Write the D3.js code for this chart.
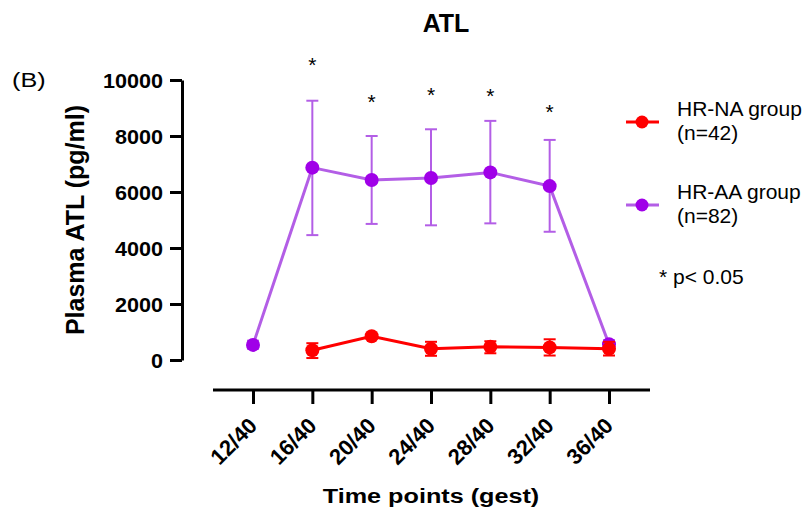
<!DOCTYPE html>
<html>
<head>
<meta charset="utf-8">
<script src="https://cdn.jsdelivr.net/npm/d3@7"></script>
<style>
  body { margin: 0; background: #fff; }
  text { font-family: "Liberation Sans", Arial, sans-serif; }
</style>
</head>
<body>
<div id="chart"></div>
<script>
var timePoints = ["12/40", "16/40", "20/40", "24/40", "28/40", "32/40", "36/40"];
var yTicks = [0, 2000, 4000, 6000, 8000, 10000];

// HR-NA group (n=42), no value at 12/40
var naMean = [null, 350, 850, 400, 470, 450, 400];
var naLow  = [null, 70, 760, 150, 240, 160, 160];
var naHigh = [null, 600, 940, 650, 670, 740, 650];

// HR-AA group (n=82)
var aaMean = [540, 6870, 6430, 6500, 6700, 6210, 560];
var aaLow  = [400, 4460, 4860, 4810, 4880, 4580, 420];
var aaHigh = [690, 9260, 8000, 8240, 8540, 7860, 700];

// significance stars (height in y units)
var starPos  = ["16/40", "20/40", "24/40", "28/40", "32/40"];
var starVals = [10700, 9400, 9640, 9620, 9050];

var width = 809, height = 517;
var svg = d3.select("#chart").append("svg")
	.attr("width", width).attr("height", height);

var x = d3.scalePoint().domain(timePoints).range([253, 609]);
var y = d3.scaleLinear().domain([0, 10000]).range([360, 80]);

var red = "#ff0000";
var purple = "#a000e8";
var purpleLine = "#b35ee6";

// text helper, sx stretches the glyphs sideways
var label = function(px, py, str, size, bold, sx, anchor) {
	return svg.append("text")
		.attr("transform", "translate(" + px + "," + py + ") scale(" + sx + ",1)")
		.attr("text-anchor", anchor || "start")
		.style("font-size", size + "px")
		.style("font-weight", bold ? "bold" : "normal")
		.text(str);
};

label(446, 32, "ATL", 25, true, 1, "middle");
label(12, 87, "(B)", 21, false, 1.2);

// y axis
var yAxis = svg.append("g").attr("transform", "translate(182,0)")
	.call(d3.axisLeft(y).tickValues(yTicks).tickFormat(d3.format("d")).tickSize(12).tickSizeOuter(0));
yAxis.selectAll("path, line").attr("stroke", "#000").attr("stroke-width", 3);
yAxis.selectAll("text")
	.style("font-size", "20px").style("font-weight", "bold").attr("fill", "#000")
	.attr("x", 0).attr("dy", "0.35em")
	.attr("transform", "translate(-19,0) scale(1.08,1)");

svg.append("text")
	.attr("transform", "translate(84,220) rotate(-90)")
	.attr("text-anchor", "middle")
	.style("font-size", "25px").style("font-weight", "bold")
	.text("Plasma ATL (pg/ml)");

// x axis
var xAxis = svg.append("g").attr("transform", "translate(0,390)")
	.call(d3.axisBottom(x).tickSize(14).tickSizeOuter(0));
xAxis.select(".domain").attr("d", "M213,0H650");
xAxis.selectAll("path, line").attr("stroke", "#000").attr("stroke-width", 3);
xAxis.selectAll("text")
	.style("font-size", "22px").style("font-weight", "bold").attr("fill", "#000")
	.attr("text-anchor", "end")
	.attr("dy", null).attr("y", 0)
	.attr("transform", "translate(5,37) rotate(-45)");

label(431, 503, "Time points (gest)", 21, true, 1.2, "middle");

var drawSeries = function(mean, low, high, lineColor, dotColor, barColor) {
	var pts = timePoints.map(function(t, i) {
		return {t: t, m: mean[i], lo: low[i], hi: high[i]};
	}).filter(function(d) { return d.m !== null; });

	var g = svg.append("g");
	var line = d3.line().x(function(d) { return x(d.t); }).y(function(d) { return y(d.m); });
	g.append("path").datum(pts).attr("d", line)
		.attr("fill", "none").attr("stroke", lineColor).attr("stroke-width", 3);

	var eb = g.selectAll(".eb").data(pts).enter().append("g");
	eb.append("line")
		.attr("x1", function(d) { return x(d.t); }).attr("x2", function(d) { return x(d.t); })
		.attr("y1", function(d) { return y(d.lo); }).attr("y2", function(d) { return y(d.hi); })
		.attr("stroke", barColor).attr("stroke-width", 2);
	["lo", "hi"].forEach(function(k) {
		eb.append("line")
			.attr("x1", function(d) { return x(d.t) - 6; }).attr("x2", function(d) { return x(d.t) + 6; })
			.attr("y1", function(d) { return y(d[k]); }).attr("y2", function(d) { return y(d[k]); })
			.attr("stroke", barColor).attr("stroke-width", 2);
	});
	g.selectAll("circle").data(pts).enter().append("circle")
		.attr("cx", function(d) { return x(d.t); })
		.attr("cy", function(d) { return y(d.m); })
		.attr("r", 7).attr("fill", dotColor);
};

drawSeries(aaMean, aaLow, aaHigh, purpleLine, purple, purpleLine);
drawSeries(naMean, naLow, naHigh, red, red, red);

// stars
svg.selectAll(".star").data(starPos).enter().append("text")
	.attr("x", function(d) { return x(d); })
	.attr("y", function(d, i) { return y(starVals[i]) + 12; })
	.attr("text-anchor", "middle")
	.style("font-size", "21px").text("*");

// legend
var legend = [
	{name: "HR-NA group", n: "(n=42)", color: red, dot: red, y: 122, base: 116},
	{name: "HR-AA group", n: "(n=82)", color: purpleLine, dot: purple, y: 205, base: 199}
];
legend.forEach(function(l) {
	svg.append("line").attr("x1", 626).attr("x2", 659).attr("y1", l.y).attr("y2", l.y)
		.attr("stroke", l.color).attr("stroke-width", 3);
	svg.append("circle").attr("cx", 642).attr("cy", l.y).attr("r", 6.5).attr("fill", l.dot);
	label(677, l.base, l.name, 21, false, 1);
	label(677, l.base + 24, l.n, 21, false, 1);
});
label(659, 284, "* p< 0.05", 21, false, 1);
</script>
</body>
</html>
